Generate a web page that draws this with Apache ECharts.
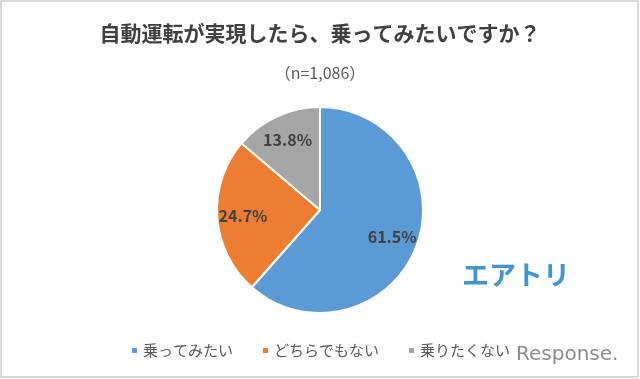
<!DOCTYPE html>
<html>
<head>
<meta charset="utf-8">
<script src="https://cdn.jsdelivr.net/npm/echarts@6/dist/echarts.min.js"></script>
<style>
html,body{margin:0;padding:0;background:#fff;}
#c{width:640px;height:379px;}
</style>
</head>
<body>
<div id="c"></div>
<script>
const titleText = '自動運転が実現したら、乗ってみたいですか？';
const subtitleText = '（n=1,086）';
const categories = ['乗ってみたい', 'どちらでもない', '乗りたくない'];
const values = [61.5, 24.7, 13.8];
const palette = ['#5B9BD5', '#ED7D31', '#A5A5A5'];
const FONT = '"Noto Sans CJK JP", "Noto Sans", sans-serif';

const chart = echarts.init(document.getElementById('c'), null, {renderer: 'canvas'});
const data = categories.map((n, i) => ({name: n, value: values[i]}));
const center = [320, 210];
const R = 103;

chart.setOption({
  backgroundColor: '#ffffff',
  animation: false,
  color: palette,
  title: [{
    text: titleText,
    left: 'center', top: 18,
    textStyle: {fontFamily: FONT, fontSize: 21, fontWeight: 'bold', color: '#404040'}
  }, {
    text: subtitleText,
    left: 'center', top: 60,
    textStyle: {fontFamily: FONT, fontSize: 16, fontWeight: 'normal', color: '#595959'}
  }],
  legend: {
    data: categories,
    left: 'center', top: 338,
    icon: 'rect', itemWidth: 7, itemHeight: 7, itemGap: 28,
    textStyle: {fontFamily: FONT, fontSize: 15, color: '#595959'}
  },
  series: [{
    type: 'pie',
    center: center,
    radius: [0, R],
    startAngle: 90,
    clockwise: true,
    data: data,
    label: {show: false},
    labelLine: {show: false},
    itemStyle: {borderColor: '#ffffff', borderWidth: 2},
    emphasis: {disabled: true},
    silent: true
  }, {
    type: 'pie',
    center: center,
    radius: [R * 0.44, R],
    startAngle: 90,
    clockwise: true,
    data: data,
    itemStyle: {color: 'rgba(0,0,0,0)', borderWidth: 0},
    label: {
      show: true, position: 'inside',
      formatter: p => p.value.toFixed(1) + '%',
      fontFamily: FONT, fontSize: 16, fontWeight: 'bold', color: '#404040', opacity: 1
    },
    labelLine: {show: false},
    emphasis: {disabled: true},
    silent: true,
    z: 5
  }],
  graphic: [{
    type: 'rect',
    shape: {x: 1, y: 1, width: 637, height: 376},
    style: {fill: 'none', stroke: '#d9d9d9', lineWidth: 2},
    silent: true
  }, {
    type: 'text',
    left: 462, top: 261,
    style: {text: 'エアトリ', fontFamily: FONT, fontSize: 27, fontWeight: 'bold', fill: '#3D95D2'}
  }, {
    type: 'text',
    left: 516, top: 345,
    style: {text: 'Response.', fontFamily: '"DejaVu Sans", sans-serif', fontSize: 20, fill: '#8c8c8c'}
  }]
});
</script>
</body>
</html>
